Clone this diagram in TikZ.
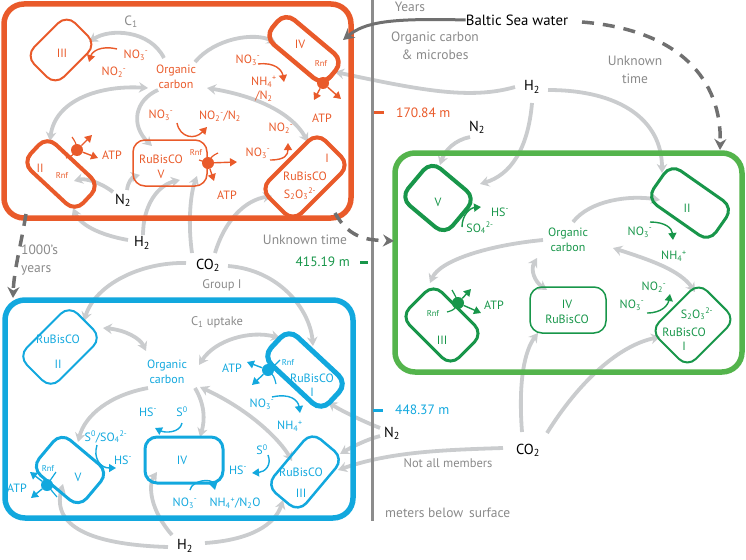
\documentclass[tikz,border=0pt]{standalone}
\usepackage{fontspec}
\setmainfont{PT Sans}
\usetikzlibrary{arrows.meta,backgrounds}

\definecolor{orng}{RGB}{233,90,42}
\definecolor{grnbox}{RGB}{84,180,76}
\definecolor{grn}{RGB}{24,150,74}
\definecolor{blu}{RGB}{18,168,222}
\definecolor{lgray}{RGB}{202,204,206}
\definecolor{dgray}{RGB}{112,112,112}
\definecolor{tgray}{RGB}{138,138,138}

\newcommand\dn[1]{\textsubscript{#1}}
\newcommand\hi[1]{\textsuperscript{#1}}

\tikzset{
	zone/.style={line width=5.5pt, rounded corners=20pt},
	cell/.style={draw, rounded corners=12pt, inner sep=0pt},
	lab/.style={inner sep=0pt, font=\fontsize{12}{14.5}\selectfont, align=center},
	gas/.style={inner sep=0pt, font=\fontsize{14.5}{16}\selectfont},
	note/.style={inner sep=0pt, text=tgray, font=\fontsize{13.5}{18}\selectfont, align=center},
	rnf/.style={inner sep=0pt, font=\fontsize{8.5}{9}\selectfont},
	garr/.style={lgray, line width=3.8pt, -{Stealth[length=9pt,width=10.5pt]}},
	garrs/.style={lgray, line width=3.8pt, {Stealth[length=9pt,width=10.5pt]}-{Stealth[length=9pt,width=10.5pt]}},
	marr/.style={line width=1.4pt, -{Triangle[length=7pt,width=8pt]}},
	atpc/.style={circle, fill, inner sep=0pt, minimum size=12pt},
	timearr/.style={dgray, line width=3.5pt, dash pattern=on 12pt off 9pt, -{Stealth[length=11pt,width=12pt]}}
}

\begin{document}
\begin{tikzpicture}[x=1pt, y=-1pt]
	\useasboundingbox (0,0) rectangle (746,559);
	
	% depth axis
	\draw[line width=3pt, black!45] (372,0) -- (372,521);
	\draw[line width=3pt, orng] (374,113) -- (384,113);
	\draw[line width=3pt, grn] (360,262) -- (368,262);
	\draw[line width=3pt, blu] (373,410) -- (383,410);
	\node[note, anchor=west, text=orng] (d1) at (396,113) {170.84 m};
	\node[note, anchor=east, text=grn] (d2) at (350,262) {415.19 m};
	\node[note, anchor=west, text=blu] (d3) at (395,410) {448.37 m};
	\node[note, anchor=west] (d4) at (385,513) {meters below\, surface};
	
	% the three communities
	\draw[zone, orng] (4,4) rectangle (351,218);
	\draw[zone, grnbox] (395,153) rectangle (742,372);
	\draw[zone, blu] (5,300) rectangle (353,518);
	
	%%% 170.84 m (orange)
	\node[cell, orng, line width=2pt, minimum width=58pt, minimum height=42pt, rotate=45] (o3) at (61,50) {};
	\node[cell, orng, line width=4.5pt, minimum width=76pt, minimum height=32pt, rotate=-40] (o4) at (304,49) {};
	\node[cell, orng, line width=1.5pt, minimum width=74pt, minimum height=46pt] (o5) at (170,163) {};
	\node[cell, orng, line width=4pt, minimum width=72pt, minimum height=36pt, rotate=-43] (o2) at (61,174) {};
	\node[cell, orng, line width=4pt, minimum width=80pt, minimum height=46pt, rotate=45] (o1) at (305,177) {};
	
	\node[lab, text=orng] (o3l) at (62,53) {III};
	\node[lab, text=orng] (o4l) at (300,44) {IV};
	\node[rnf, text=orng] (o4r) at (321,63) {Rnf};
	\node[lab, text=orng] (o5l) at (161,167) {RuBisCO\\V};
	\node[rnf, text=orng] (o5r) at (196,152) {Rnf};
	\node[lab, text=orng] (o2l) at (40,168) {II};
	\node[rnf, text=orng] (o2r) at (62,175) {Rnf};
	\node[lab, text=orng] (o1l) at (327,158) {I};
	\node[lab, text=orng] (o1b) at (305,176) {RuBisCO};
	\node[lab, text=orng] (o1s) at (300,194) {S\dn2O\dn3\hi{2-}};
	\node[lab, text=orng] (ocO) at (176,77) {Organic\\carbon};
	\node[note] (c1a) at (131,22) {C\dn1};
	
	\node[lab, text=orng] (o3n) at (136,55) {NO\dn3\hi-};
	\node[lab, text=orng] (o3m) at (114,72) {NO\dn2\hi-};
	\node[lab, text=orng] (o4n) at (248,60) {NO\dn3\hi-};
	\node[lab, text=orng] (o4m) at (264,89) {NH\dn4\hi+\\/N\dn2};
	\node[lab, text=orng] (o4a) at (322,118) {ATP};
	\node[lab, text=orng] (o5n) at (161,115) {NO\dn3\hi-};
	\node[lab, text=orng] (o5m) at (220,116) {NO\dn2\hi-/N\dn2};
	\node[lab, text=orng] (o5a) at (227,195) {ATP};
	\node[lab, text=orng] (o2a) at (112,155) {ATP};
	\node[lab, text=orng] (o1n) at (258,153) {NO\dn3\hi-};
	\node[lab, text=orng] (o1m) at (281,128) {NO\dn2\hi-};
	
	\draw[marr, orng] (117,49) .. controls (100,45) and (92,52) .. (89,62);
	\draw[marr, orng] (258,64) .. controls (275,62) and (282,70) .. (284,82);
	\draw[marr, orng] (177,123) .. controls (180,138) and (195,140) .. (207,127);
	\draw[marr, orng] (270,160) .. controls (285,160) and (288,155) .. (288,143);
	
	% ATP synthases
	\node[atpc, orng] (o4c) at (323,83) {};
	\draw[marr, orng] (o4c) -- (314,100);
	\draw[marr, orng] (o4c) -- (341,99);
	\draw[orng, line width=1.2pt] (311,78) .. controls (318,80) .. (323,83) .. controls (330,80) .. (334,74);
	\node[atpc, orng] (o5c) at (208,163) {};
	\draw[marr, orng] (o5c) -- (237,162);
	\draw[marr, orng] (o5c) -- (214,181);
	\draw[orng, line width=1.2pt] (199,160) .. controls (204,162) .. (208,163) .. controls (212,156) .. (218,153);
	\node[atpc, orng] (o2c) at (77,150) {};
	\draw[marr, orng] (o2c) -- (92,135);
	\draw[marr, orng] (o2c) -- (98,158);
	\draw[orng, line width=1.2pt] (72,137) .. controls (76,143) .. (77,150) .. controls (72,156) .. (66,158);
	
	%%% 415.19 m (green)
	\node[cell, grn, line width=4pt, minimum width=58pt, minimum height=48pt, rotate=-40] (g5) at (438,198) {};
	\node[cell, grn, line width=3pt, minimum width=76pt, minimum height=42pt, rotate=-35] (g2) at (690,203) {};
	\node[cell, grn, line width=3pt, minimum width=70pt, minimum height=46pt, rotate=-45] (g3) at (442,325) {};
	\node[cell, grn, line width=1.5pt, minimum width=76pt, minimum height=46pt] (g4) at (568,310) {};
	\node[cell, grn, line width=2pt, minimum width=68pt, minimum height=52pt, rotate=45] (g1) at (693,325) {};
	
	\node[lab, text=grn] (g5l) at (438,202) {V};
	\node[lab, text=grn] (g2l) at (687,208) {II};
	\node[rnf, text=grn] (g3r) at (433,313) {Rnf};
	\node[lab, text=grn] (g3l) at (442,340) {III};
	\node[lab, text=grn] (g4l) at (567,312) {IV\\RuBisCO};
	\node[lab, text=grn] (g1s) at (697,314) {S\dn2O\dn3\hi{2-}};
	\node[lab, text=grn] (g1l) at (684,339) {RuBisCO\\I};
	\node[lab, text=grn] (ocG) at (568,240) {Organic\\carbon};
	
	\node[lab, text=grn] (g5n) at (500,212) {HS\hi-};
	\node[lab, text=grn] (g5m) at (480,228) {SO\dn4\hi{2-}};
	\node[lab, text=grn] (g2n) at (640,232) {NO\dn3\hi-};
	\node[lab, text=grn] (g2m) at (674,256) {NH\dn4\hi+};
	\node[lab, text=grn] (g3a) at (494,305) {ATP};
	\node[lab, text=grn] (g1m) at (654,287) {NO\dn2\hi-};
	\node[lab, text=grn] (g1n) at (632,305) {NO\dn3\hi-};
	
	\draw[marr, grn] (462,227) .. controls (462,215) and (470,208) .. (481,207);
	\draw[marr, grn] (650,222) .. controls (665,222) and (672,228) .. (673,240);
	\draw[marr, grn] (647,313) .. controls (662,313) and (668,305) .. (670,294);
	\node[atpc, grn] (g3c) at (458,303) {};
	\draw[marr, grn] (g3c) -- (471,289);
	\draw[marr, grn] (g3c) -- (481,313);
	\draw[grn, line width=1.2pt] (452,290) .. controls (456,297) .. (458,303) .. controls (454,310) .. (447,312);
	
	%%% 448.37 m (blue)
	\node[cell, blu, line width=2pt, minimum width=72pt, minimum height=46pt, rotate=45] (b2) at (60,347) {};
	\node[cell, blu, line width=5pt, minimum width=80pt, minimum height=38pt, rotate=-43] (b1) at (305,370) {};
	\node[cell, blu, line width=3pt, minimum width=78pt, minimum height=46pt] (b4) at (184,460) {};
	\node[cell, blu, line width=3pt, minimum width=62pt, minimum height=46pt, rotate=-40] (b5) at (70,470) {};
	\node[cell, blu, line width=2.5pt, minimum width=70pt, minimum height=42pt, rotate=50] (b3) at (305,472) {};
	
	\node[lab, text=blu, font=\fontsize{12}{25}\selectfont] (b2l) at (58,352) {RuBisCO\\II};
	\node[rnf, text=blu] (b1r) at (288,362) {Rnf};
	\node[lab, text=blu] (b1l) at (312,385) {RuBisCO\\I};
	\node[lab, text=blu] (b4l) at (182,460) {IV};
	\node[rnf, text=blu] (b5r) at (48,468) {Rnf};
	\node[lab, text=blu] (b5l) at (78,477) {V};
	\node[lab, text=blu, font=\fontsize{12}{21}\selectfont] (b3l) at (301,483) {RuBisCO\\III};
	\node[lab, text=blu] (ocB) at (167,372) {Organic\\carbon};
	
	\node[lab, text=blu] (b1a) at (232,368) {ATP};
	\node[lab, text=blu] (b1n) at (262,404) {NO\dn3\hi-};
	\node[lab, text=blu] (b1m) at (290,426) {NH\dn4\hi+};
	\node[lab, text=blu] (b4h) at (148,412) {HS\hi-};
	\node[lab, text=blu] (b4s) at (182,412) {S\hi0};
	\node[lab, text=blu] (b4n) at (185,503) {NO\dn3\hi-};
	\node[lab, text=blu] (b4m) at (235,503) {NH\dn4\hi+/N\dn2O};
	\node[lab, text=blu] (b5s) at (106,437) {S\hi0/SO\dn4\hi{2-}};
	\node[lab, text=blu] (b5h) at (123,460) {HS\hi-};
	\node[lab, text=blu] (b5a) at (17,488) {ATP};
	\node[lab, text=blu] (b3s) at (262,450) {S\hi0};
	\node[lab, text=blu] (b3h) at (238,470) {HS\hi-};
	
	\draw[marr, blu] (272,397) .. controls (290,393) and (298,400) .. (300,413);
	\draw[marr, blu] (182,423) .. controls (180,433) and (165,433) .. (155,428);
	\draw[marr, blu] (190,490) .. controls (192,480) and (212,478) .. (215,490);
	\draw[marr, blu] (97,445) .. controls (93,458) and (100,468) .. (116,468);
	\draw[marr, blu] (268,455) .. controls (272,465) and (265,472) .. (252,473);
	\node[atpc, blu] (b1c) at (268,370) {};
	\draw[marr, blu] (b1c) -- (247,362);
	\draw[marr, blu] (b1c) -- (252,385);
	\draw[blu, line width=1.2pt] (280,360) .. controls (274,366) .. (268,370) .. controls (274,376) .. (276,384);
	\node[atpc, blu] (b5c) at (47,485) {};
	\draw[marr, blu] (b5c) -- (30,472);
	\draw[marr, blu] (b5c) -- (31,498);
	\draw[blu, line width=1.2pt] (56,472) .. controls (51,479) .. (47,485) .. controls (52,491) .. (57,497);
	
	%%% substrates and notes
	\node[gas] (n2a) at (123,200) {N\dn2};
	\node[gas] (h2a) at (142,243) {H\dn2};
	\node[gas] (co2a) at (208,265) {CO\dn2};
	\node[gas] (h2b) at (532,87) {H\dn2};
	\node[gas] (n2b) at (477,127) {N\dn2};
	\node[gas] (n2c) at (392,433) {N\dn2};
	\node[gas] (co2b) at (528,450) {CO\dn2};
	\node[gas] (h2c) at (185,546) {H\dn2};
	\node[gas, font=\fontsize{14.8}{16}\selectfont] (sea) at (517,20) {Baltic Sea water};
	\node[note] (yrs) at (410,7) {Years};
	\node[note] (ocm) at (435,46) {Organic carbon\\\& microbes};
	\node[note] (unk1) at (635,70) {Unknown\\time};
	\node[note] (unk2) at (305,240) {Unknown time};
	\node[note, align=left, anchor=west] (kyr) at (21,260) {1000's\\years};
	\node[note, font=\fontsize{12.5}{15}\selectfont] (grp) at (222,285) {Group I};
	\node[note, font=\fontsize{12.5}{15}\selectfont] (c1b) at (217,322) {C\dn1 uptake};
	\node[note, font=\fontsize{12.5}{15}\selectfont] (nam) at (448,463) {Not all members};
	
	%%% gray fluxes
	\begin{scope}[on background layer]
	% orange community
	\draw[garr] (164,58) .. controls (150,30) and (110,28) .. (89,42);
	\draw[garr] (195,62) .. controls (215,38) and (255,32) .. (276,43);
	\draw[garrs] (207,88) .. controls (250,95) and (290,110) .. (308,142);
	\draw[garrs] (50,141) .. controls (55,100) and (100,85) .. (148,88);
	\draw[garr] (158,90) .. controls (135,100) and (130,125) .. (152,146);
	\draw[garr] (113,192) .. controls (100,182) and (85,178) .. (74,181);
	\draw[garr] (127,190) .. controls (128,182) and (132,177) .. (140,175);
	\draw[garr] (128,240) .. controls (100,235) and (80,225) .. (73,208);
	\draw[garr] (143,235) .. controls (143,205) and (158,185) .. (180,180);
	\draw[garr] (215,253) .. controls (225,220) and (245,200) .. (272,196);
	\draw[garr] (192,253) .. controls (188,225) and (190,195) .. (197,176);
	% from the water side
	\draw[garr] (515,87) .. controls (470,100) and (420,90) .. (335,72);
	\draw[garr] (548,90) .. controls (620,90) and (662,120) .. (662,173);
	\draw[garr] (532,103) .. controls (528,150) and (510,175) .. (480,184);
	\draw[garr] (470,137) .. controls (455,140) and (445,150) .. (440,165);
	% green community
	\draw[garr] (573,222) .. controls (590,200) and (630,195) .. (660,200);
	\draw[garrs] (613,248) .. controls (650,260) and (680,270) .. (695,292);
	\draw[garr] (543,240) .. controls (490,245) and (440,260) .. (430,283);
	\draw[garrs] (537,258) .. controls (530,270) and (535,282) .. (547,290);
	\draw[garr] (522,432) .. controls (518,380) and (525,350) .. (538,333);
	\draw[garr] (547,433) .. controls (580,380) and (620,345) .. (660,337);
	% blue community
	\draw[garr] (503,448) .. controls (440,450) and (390,452) .. (338,470);
	\draw[garr] (380,436) .. controls (365,440) and (350,448) .. (340,454);
	\draw[garr] (380,428) .. controls (360,420) and (340,410) .. (328,402);
	\draw[garr] (186,263) .. controls (140,262) and (95,285) .. (84,321);
	\draw[garr] (228,266) .. controls (280,270) and (310,310) .. (313,346);
	\draw[garrs] (103,328) .. controls (125,330) and (140,338) .. (146,351);
	\draw[garrs] (199,365) .. controls (215,340) and (250,330) .. (280,338);
	\draw[garrs] (200,387) .. controls (250,410) and (280,440) .. (292,461);
	\draw[garr] (148,388) .. controls (110,395) and (85,415) .. (78,442);
	\draw[garr] (195,388) .. controls (205,405) and (205,420) .. (200,437);
	\draw[garr] (172,535) .. controls (150,510) and (148,485) .. (157,472);
	\draw[garr] (168,547) .. controls (100,545) and (50,530) .. (63,484);
	\draw[garr] (205,543) .. controls (250,540) and (275,525) .. (283,500);
	\end{scope}
	
	%%% time between the communities
	\draw[timearr] (582,22) .. controls (680,30) and (722,80) .. (720,150);
	\draw[timearr] (26,214) .. controls (20,250) and (14,270) .. (13,298);
	\draw[timearr] (335,213) .. controls (350,240) and (370,240) .. (394,241);
	\draw[dgray, line width=3pt, -{Stealth[length=11pt,width=12pt]}] (sea.west) .. controls (390,18) and (365,22) .. (343,40);
	
\end{tikzpicture}
\end{document}
